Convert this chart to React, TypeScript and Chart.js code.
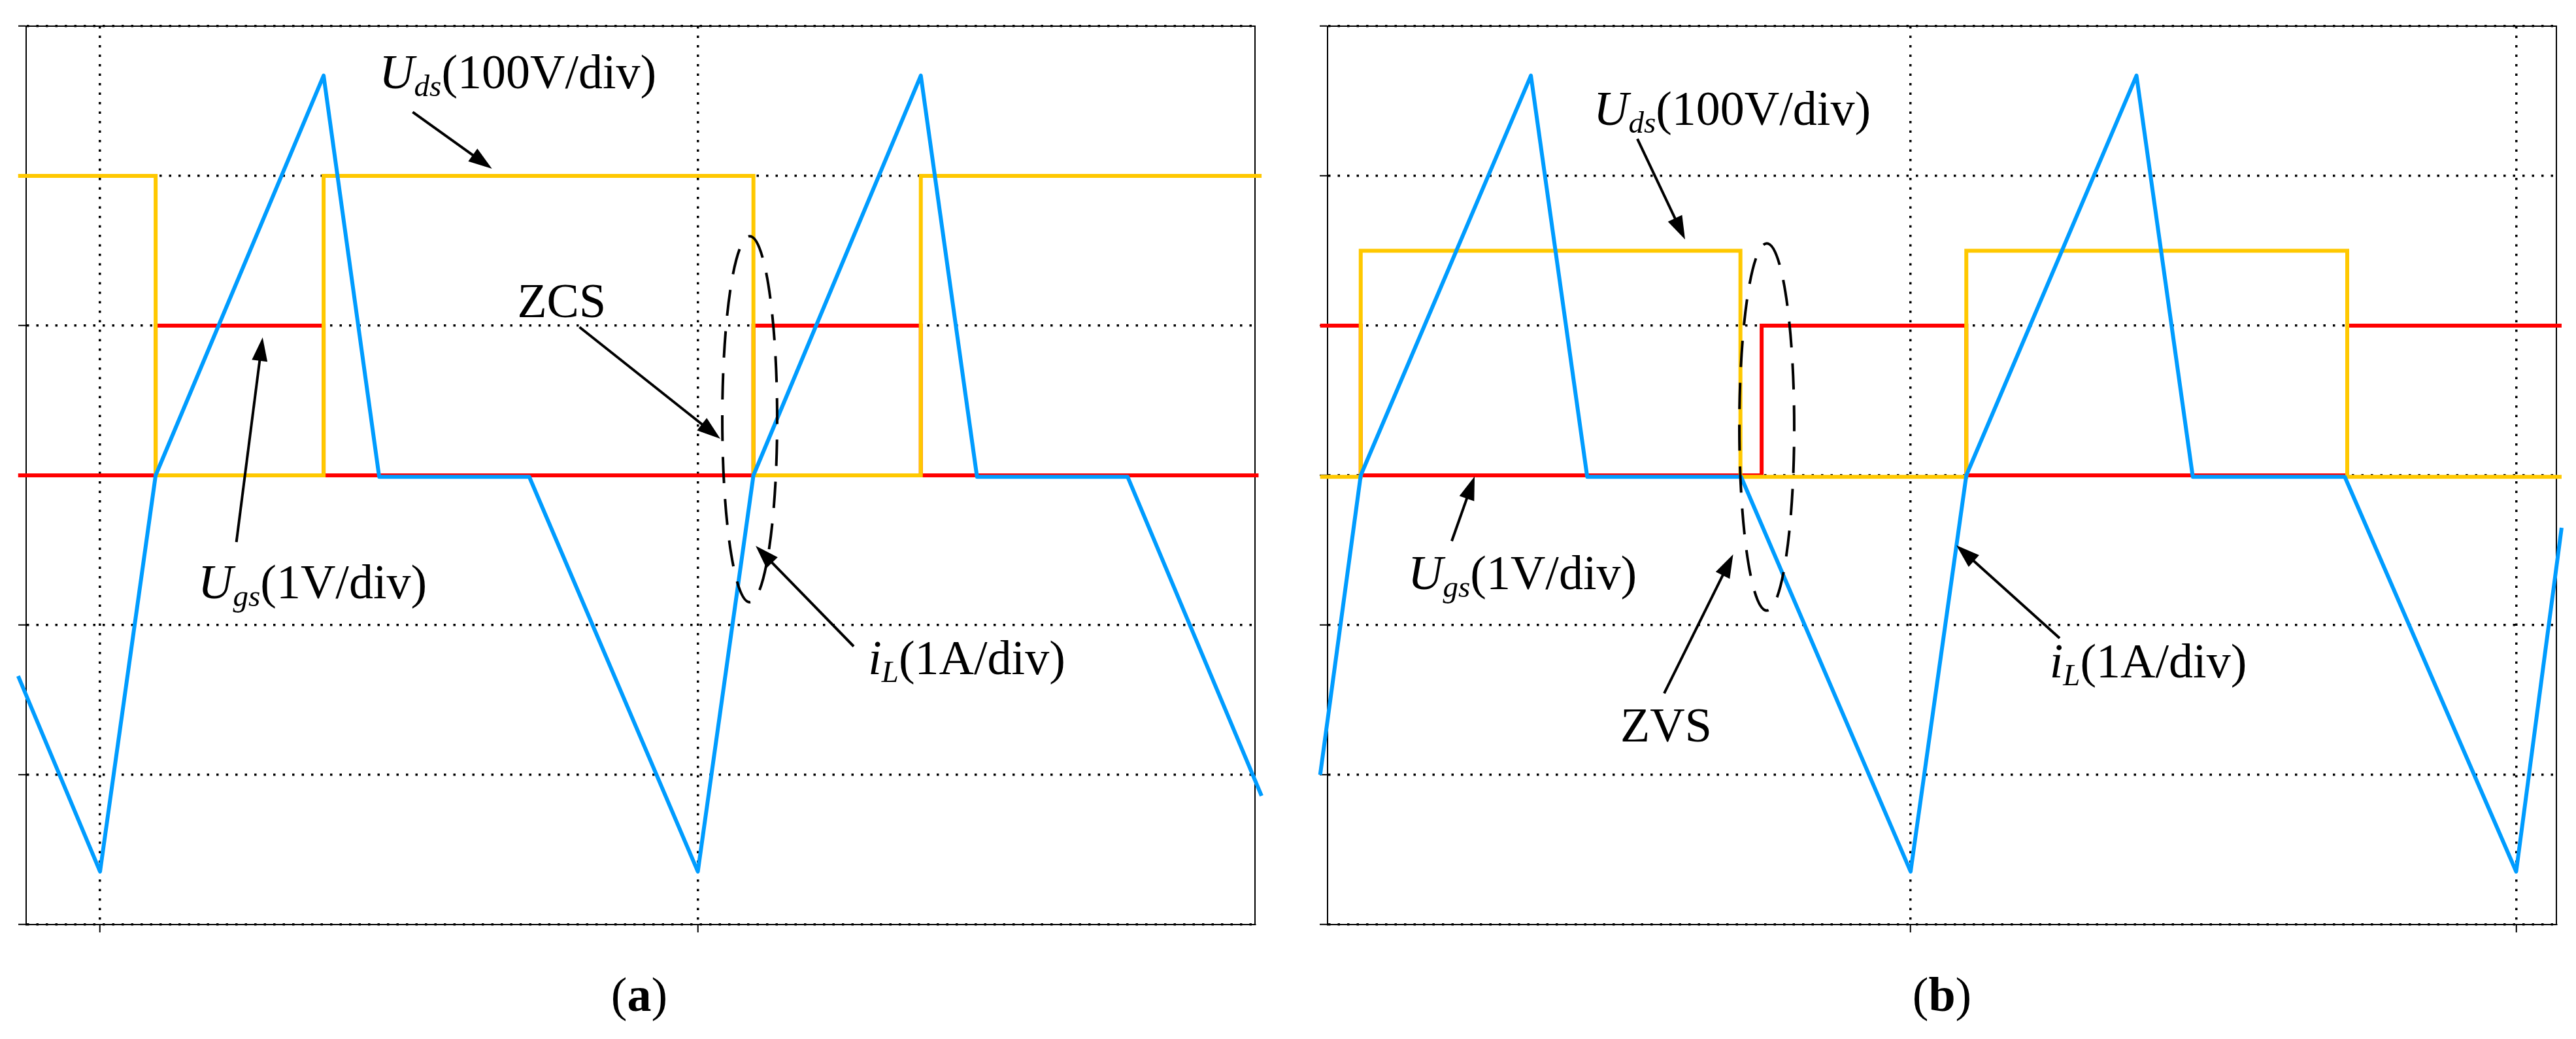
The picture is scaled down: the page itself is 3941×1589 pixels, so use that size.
import React, { useEffect, useRef } from 'react';
import { Chart, registerables } from 'chart.js';

Chart.register(...registerables);

// ---------- data (time in arbitrary units: 10 per grid division; amplitude in divisions) ----------
const Y_MIN = -3;
const Y_MAX = 3;

// Panel (a) – ZCS
const A_X_MIN = -1.236;
const A_X_MAX = 19.32;
const A_GRID_X = [0, 10];
const A_IL_T = [-1.37, 0, 0.93, 3.74, 4.67, 7.18, 10, 10.93, 13.73, 14.67, 17.19, 19.43];
const A_IL_V = [-1.34, -2.646, 0, 2.67, -0.01, -0.01, -2.646, 0, 2.67, -0.01, -0.01, -2.14];
const A_UDS_EDGES = [-1.37, 0.93, 3.74, 10.93, 13.73, 19.43];
const A_UDS_LEVELS = [2, 0, 2, 0, 2];
const A_UGS_EDGES = [-1.37, 0.93, 3.74, 10.93, 13.73, 19.38];
const A_UGS_LEVELS = [0, 1, 0, 1, 0];

// Panel (b) – ZVS
const B_X_MIN = -9.628;
const B_X_MAX = 10.664;
const B_GRID_X = [0, 10];
const B_IL_T = [-9.75, -9.08, -6.27, -5.34, -2.8, 0, 0.92, 3.73, 4.66, 7.17, 10, 10.75];
const B_IL_V = [-2.0, 0, 2.67, -0.01, -0.01, -2.646, 0, 2.67, -0.01, -0.01, -2.646, -0.35];
const B_UDS_EDGES = [-9.75, -9.08, -2.81, 0.92, 7.21, 10.75];
const B_UDS_LEVELS = [-0.01, 1.5, -0.01, 1.5, -0.01];
const B_UGS_EDGES = [-9.75, -9.08, -2.46, 0.92, 7.21, 10.75];
const B_UGS_LEVELS = [1, 0, 1, 0, 1];

// ---------- styles ----------
const COLOR_IL = '#009CFF';
const COLOR_UDS = '#FFC800';
const COLOR_UGS = '#FF0000';
const FONT_FAMILY = '"Liberation Serif", "Times New Roman", serif';
const FONT_SIZE = 74;

type Part = { t: string; italic?: boolean; bold?: boolean; sub?: boolean };
const UDS_PARTS: Part[] = [{ t: 'U', italic: true }, { t: 'ds', italic: true, sub: true }, { t: '(100V/div)' }];
const UGS_PARTS: Part[] = [{ t: 'U', italic: true }, { t: 'gs', italic: true, sub: true }, { t: '(1V/div)' }];
const IL_PARTS: Part[] = [{ t: 'i', italic: true }, { t: 'L', italic: true, sub: true }, { t: '(1A/div)' }];

type Panel = {
  xMin: number; xMax: number; gridX: number[];
  ilT: number[]; ilV: number[];
  udsEdges: number[]; udsLevels: number[];
  ugsEdges: number[]; ugsLevels: number[];
  padding: { left: number; right: number; top: number; bottom: number };
  labels: { parts: Part[]; x: number; y: number }[];
  arrows: number[][];
  ellipse: number[];
  caption: { letter: string; x: number; y: number };
};

const PANEL_A: Panel = {
  xMin: A_X_MIN, xMax: A_X_MAX, gridX: A_GRID_X,
  ilT: A_IL_T, ilV: A_IL_V,
  udsEdges: A_UDS_EDGES, udsLevels: A_UDS_LEVELS,
  ugsEdges: A_UGS_EDGES, ugsLevels: A_UGS_LEVELS,
  padding: { left: 40, right: 55, top: 40, bottom: 175 },
  labels: [
    { parts: UDS_PARTS, x: 4.67, y: 2.583 },
    { parts: [{ t: 'ZCS' }], x: 6.98, y: 1.056 },
    { parts: IL_PARTS, x: 12.85, y: -1.329 },
    { parts: UGS_PARTS, x: 1.64, y: -0.819 },
  ],
  arrows: [
    [5.23, 2.426, 6.556, 2.048],
    [8.02, 0.99, 10.376, 0.244],
    [12.607, -1.142, 10.967, -0.471],
    [2.281, -0.445, 2.72, 0.921],
  ],
  ellipse: [10.868, 0.375, 0.459, 1.222],
  caption: { letter: 'a', x: 9.02, y: -3.578 },
};

const PANEL_B: Panel = {
  xMin: B_X_MIN, xMax: B_X_MAX, gridX: B_GRID_X,
  ilT: B_IL_T, ilV: B_IL_V,
  udsEdges: B_UDS_EDGES, udsLevels: B_UDS_LEVELS,
  ugsEdges: B_UGS_EDGES, ugsLevels: B_UGS_LEVELS,
  padding: { left: 56, right: 30, top: 40, bottom: 175 },
  labels: [
    { parts: UDS_PARTS, x: -5.235, y: 2.339 },
    { parts: [{ t: 'ZVS' }], x: -4.792, y: -1.779 },
    { parts: UGS_PARTS, x: -8.3, y: -0.758 },
    { parts: IL_PARTS, x: 2.296, y: -1.35 },
  ],
  arrows: [
    [-4.512, 2.247, -3.724, 1.575],
    [-4.069, -1.456, -2.93, -0.527],
    [-7.577, -0.439, -7.199, -0.007],
    [2.461, -1.087, 0.756, -0.467],
  ],
  ellipse: [-2.375, 0.323, 0.453, 1.226],
  caption: { letter: 'b', x: 0.518, y: -3.578 },
};

function stepPoints(edges: number[], levels: number[]) {
  const pts: { x: number; y: number }[] = [];
  levels.forEach((lv, i) => {
    pts.push({ x: edges[i], y: lv });
    pts.push({ x: edges[i + 1], y: lv });
  });
  return pts;
}

function fontFor(p: Part) {
  const size = p.sub ? Math.round(FONT_SIZE * 0.64) : FONT_SIZE;
  return `${p.italic ? 'italic ' : ''}${p.bold ? 'bold ' : ''}${size}px ${FONT_FAMILY}`;
}

function drawRich(ctx: CanvasRenderingContext2D, parts: Part[], x: number, y: number, center = false) {
  const widths = parts.map((p) => {
    ctx.font = fontFor(p);
    return ctx.measureText(p.t).width;
  });
  const total = widths.reduce((a, b) => a + b, 0);
  let cx = center ? x - total / 2 : x;
  parts.forEach((p, i) => {
    ctx.font = fontFor(p);
    ctx.fillText(p.t, cx, y + (p.sub ? 12 : 0));
    cx += widths[i];
  });
}

function drawArrow(ctx: CanvasRenderingContext2D, x1: number, y1: number, x2: number, y2: number) {
  const ang = Math.atan2(y2 - y1, x2 - x1);
  const headLen = 36;
  const headHalf = 12;
  const bx = x2 - headLen * Math.cos(ang);
  const by = y2 - headLen * Math.sin(ang);
  ctx.beginPath();
  ctx.moveTo(x1, y1);
  ctx.lineTo(bx + 2 * Math.cos(ang), by + 2 * Math.sin(ang));
  ctx.lineWidth = 4;
  ctx.strokeStyle = '#000';
  ctx.setLineDash([]);
  ctx.stroke();
  ctx.beginPath();
  ctx.moveTo(x2, y2);
  ctx.lineTo(bx + headHalf * Math.sin(ang), by - headHalf * Math.cos(ang));
  ctx.lineTo(bx - headHalf * Math.sin(ang), by + headHalf * Math.cos(ang));
  ctx.closePath();
  ctx.fillStyle = '#000';
  ctx.fill();
}

function makeChart(canvas: HTMLCanvasElement, panel: Panel) {
  const gridStyle = {
    display: true,
    color: '#000',
    lineWidth: 3.5,
    borderDash: [3.5, 11],
    drawTicks: true,
    tickLength: 12,
    tickColor: '#000',
    tickWidth: 2,
    tickBorderDash: [],
  };
  // in Chart.js 4 the dash of grid lines lives in border.dash
  const borderStyle = { display: true, color: '#000', width: 2, dash: [3.5, 11], dashOffset: 0 };

  const framePlugin = {
    id: 'frame',
    beforeDatasetsDraw(chart: any) {
      const { ctx, chartArea } = chart;
      ctx.save();
      ctx.strokeStyle = '#000';
      ctx.lineWidth = 2;
      ctx.setLineDash([]);
      ctx.strokeRect(chartArea.left, chartArea.top, chartArea.right - chartArea.left, chartArea.bottom - chartArea.top);
      ctx.restore();
    },
  };

  const annotationPlugin = {
    id: 'annotations',
    afterDraw(chart: any) {
      const { ctx } = chart;
      const xs = chart.scales.x;
      const ys = chart.scales.y;
      const px = (v: number) => xs.getPixelForValue(v);
      const py = (v: number) => ys.getPixelForValue(v);
      ctx.save();
      ctx.fillStyle = '#000';
      ctx.textBaseline = 'alphabetic';
      ctx.textAlign = 'left';
      panel.labels.forEach((l) => drawRich(ctx, l.parts, px(l.x), py(l.y)));
      panel.arrows.forEach((a) => drawArrow(ctx, px(a[0]), py(a[1]), px(a[2]), py(a[3])));
      const [ecx, ecy, erx, ery] = panel.ellipse;
      const cxp = px(ecx);
      const cyp = py(ecy);
      const rxp = Math.abs(px(ecx + erx) - cxp);
      const ryp = Math.abs(py(ecy + ery) - cyp);
      ctx.beginPath();
      ctx.ellipse(cxp, cyp, rxp, ryp, 0, -Math.PI / 2, Math.PI * 1.5);
      ctx.lineWidth = 4;
      ctx.strokeStyle = '#000';
      ctx.setLineDash([40, 24]);
      ctx.stroke();
      ctx.setLineDash([]);
      ctx.fillStyle = '#000';
      drawRich(
        ctx,
        [{ t: '(' }, { t: panel.caption.letter, bold: true }, { t: ')' }],
        px(panel.caption.x),
        py(panel.caption.y),
        true,
      );
      ctx.restore();
    },
  };

  return new Chart(canvas, {
    type: 'line',
    data: {
      datasets: [
        {
          label: 'iL',
          data: panel.ilT.map((t, i) => ({ x: t, y: panel.ilV[i] })),
          borderColor: COLOR_IL,
          borderWidth: 6,
          pointRadius: 0,
          tension: 0,
          borderJoinStyle: 'round',
          clip: 15,
        },
        {
          label: 'Uds',
          data: stepPoints(panel.udsEdges, panel.udsLevels),
          borderColor: COLOR_UDS,
          borderWidth: 6,
          pointRadius: 0,
          tension: 0,
          borderJoinStyle: 'miter',
          clip: 15,
        },
        {
          label: 'Ugs',
          data: stepPoints(panel.ugsEdges, panel.ugsLevels),
          borderColor: COLOR_UGS,
          borderWidth: 6,
          pointRadius: 0,
          tension: 0,
          borderJoinStyle: 'miter',
          clip: 15,
        },
      ],
    } as any,
    options: {
      animation: false,
      responsive: false,
      devicePixelRatio: 1,
      events: [],
      layout: { padding: panel.padding },
      plugins: {
        legend: { display: false },
        tooltip: { enabled: false },
        title: { display: false },
      },
      scales: {
        x: {
          type: 'linear',
          min: panel.xMin,
          max: panel.xMax,
          afterBuildTicks: (s: any) => {
            s.ticks = panel.gridX.map((v) => ({ value: v }));
          },
          afterFit: (s: any) => {
            s.height = 0;
          },
          ticks: { display: false },
          grid: gridStyle,
          border: borderStyle,
        },
        y: {
          type: 'linear',
          min: Y_MIN,
          max: Y_MAX,
          afterFit: (s: any) => {
            s.width = 0;
          },
          ticks: { display: false, stepSize: 1 },
          grid: gridStyle,
          border: borderStyle,
        },
      },
    } as any,
    plugins: [framePlugin, annotationPlugin],
  });
}

const W = 3941;
const H = 1589;
const SPLIT = 1975;

export default function App() {
  const refA = useRef<HTMLCanvasElement>(null);
  const refB = useRef<HTMLCanvasElement>(null);

  useEffect(() => {
    const charts: Chart[] = [];
    if (refA.current) charts.push(makeChart(refA.current, PANEL_A));
    if (refB.current) charts.push(makeChart(refB.current, PANEL_B));
    return () => charts.forEach((c) => c.destroy());
  }, []);

  return (
    <div style={{ position: 'absolute', left: 0, top: 0, width: W, height: H, background: '#fff', overflow: 'hidden' }}>
      <canvas
        ref={refA}
        width={SPLIT}
        height={H}
        style={{ position: 'absolute', left: 0, top: 0, width: SPLIT, height: H }}
      />
      <canvas
        ref={refB}
        width={W - SPLIT}
        height={H}
        style={{ position: 'absolute', left: SPLIT, top: 0, width: W - SPLIT, height: H }}
      />
    </div>
  );
}
